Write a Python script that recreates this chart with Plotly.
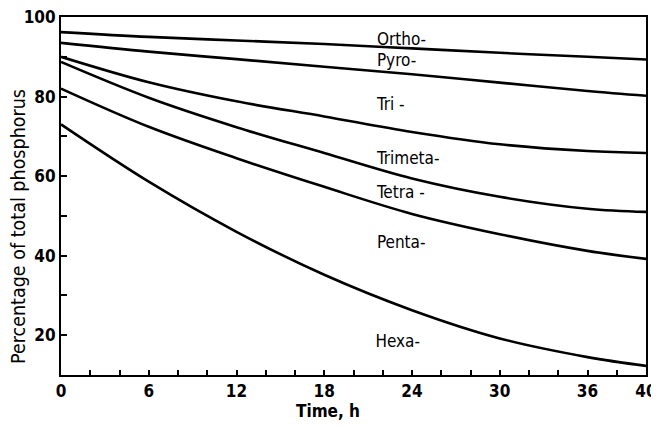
import plotly.graph_objects as go

time_h = [0, 6, 12, 18, 24, 30, 36, 40]
ortho_pyro = [96.2, 95.0, 94.1, 93.2, 92.1, 91.0, 90.0, 89.3]
pyro_tri = [93.5, 91.3, 89.4, 87.5, 85.6, 83.5, 81.4, 80.2]
tri_trimeta = [90.0, 83.6, 78.8, 75.0, 71.1, 68.0, 66.3, 65.8]
trimeta_tetra = [88.7, 79.7, 72.3, 65.8, 59.4, 54.8, 51.8, 51.0]
tetra_penta = [82.0, 72.4, 64.5, 57.3, 50.5, 45.4, 41.2, 39.2]
penta_hexa = [73.0, 58.6, 46.0, 35.2, 26.3, 19.2, 14.5, 12.3]

series = [ortho_pyro, pyro_tri, tri_trimeta, trimeta_tetra, tetra_penta, penta_hexa]

label_names = ["Ortho-", "Pyro-", "Tri -", "Trimeta-", "Tetra -", "Penta-", "Hexa-"]
label_x = [21.6, 21.6, 21.6, 21.6, 21.6, 21.6, 21.5]
label_y = [94.0, 88.7, 77.6, 64.0, 55.6, 43.1, 18.2]

x_tick_vals = [0, 6, 12, 18, 24, 30, 36, 40]
y_tick_vals = [20, 40, 60, 80, 100]

FONT = "DejaVu Sans Condensed"

fig = go.Figure()
for s in series:
    fig.add_trace(go.Scatter(x=time_h, y=s, mode="lines",
                             line=dict(color="black", width=2.6, shape="spline", smoothing=1.0),
                             showlegend=False, hoverinfo="skip"))

fig.add_trace(go.Scatter(x=label_x, y=label_y, mode="text", text=label_names,
                         textposition="middle right",
                         textfont=dict(family=FONT, size=17, color="black"),
                         showlegend=False, hoverinfo="skip"))

# page body has an 8px margin: shrink the figure so the plot lands where the reference has it
fig.update_layout(
    width=651, height=421,
    margin=dict(l=53, r=13, t=9, b=54),
    paper_bgcolor="white", plot_bgcolor="white",
    font=dict(family=FONT, color="black"),
)
fig.add_annotation(text="Percentage of total phosphorus", textangle=-90,
                   xref="paper", yref="paper", x=0, y=0.415, xshift=-42.5,
                   xanchor="center", yanchor="middle", showarrow=False,
                   font=dict(family=FONT, size=19.5, color="black"))
fig.add_annotation(text="Time, h", xref="paper", yref="paper", x=0.456, y=-0.1,
                   xanchor="center", yanchor="middle", showarrow=False,
                   font=dict(family=FONT, size=17, color="black", weight="bold"))
fig.update_xaxes(
    range=[0, 40], tickmode="array", tickvals=x_tick_vals, automargin=False,
    ticklabeloverflow="allow",
    ticks="inside", ticklen=5, tickwidth=1.5, tickcolor="black",
    minor=dict(tick0=0, dtick=2, ticks="inside", ticklen=5, tickwidth=1.5, tickcolor="black"),
    showline=True, linecolor="black", linewidth=2, mirror=True,
    showgrid=False, zeroline=False,
    tickfont=dict(family=FONT, size=17, color="black", weight="bold"),
)
fig.update_yaxes(
    range=[10, 100], tickmode="array", tickvals=y_tick_vals, automargin=False,
    ticklabeloverflow="allow",
    ticks="inside", ticklen=6, tickwidth=1.5, tickcolor="black",
    minor=dict(tick0=10, dtick=20, ticks="inside", ticklen=6, tickwidth=1.5, tickcolor="black"),
    showline=True, linecolor="black", linewidth=2, mirror=True,
    showgrid=False, zeroline=False,
    tickfont=dict(family=FONT, size=17, color="black", weight="bold"),
)

fig.write_html("out.html")
